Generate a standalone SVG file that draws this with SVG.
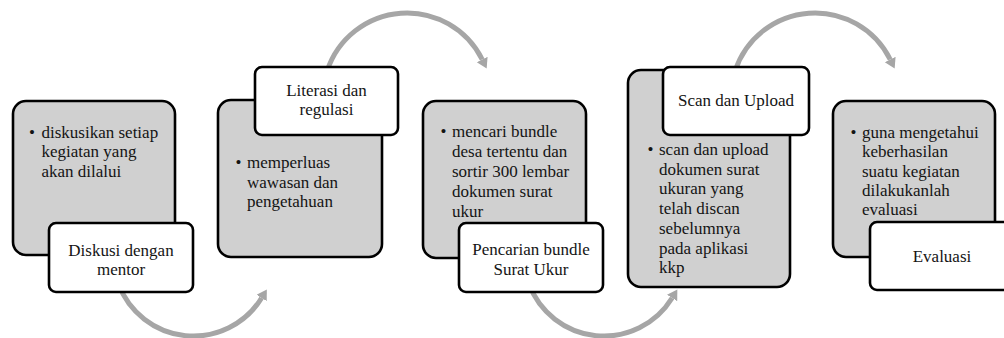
<svg xmlns="http://www.w3.org/2000/svg" width="1004" height="338" viewBox="0 0 1004 338">
  <style>
    .card { fill: #d0d0d0; stroke: #000; stroke-width: 2.6; }
    .tag { fill: #fff; stroke: #000; stroke-width: 2.6; }
    .body { font-family: "Liberation Serif", "Times New Roman", serif; font-size: 17px; fill: #141414; }
    .title { font-family: "Liberation Serif", "Times New Roman", serif; font-size: 17px; fill: #141414; text-anchor: middle; }
    .flow { fill: none; stroke: #a6a6a6; stroke-width: 5; marker-end: url(#head); }
  </style>
  <defs>
    <marker id="head" markerUnits="userSpaceOnUse" markerWidth="14" markerHeight="14" refX="0" refY="6" orient="auto">
      <path d="M0,0 L10,6 L0,12 z" fill="#a6a6a6"/>
    </marker>
  </defs>

  <rect width="1004" height="338" fill="#fff"/>

  <!-- curved connectors between the steps -->
  <g id="connectors">
    <path class="flow" d="M118.3,283.4 A80,80 0 0 0 261.6,298"/>
    <path class="flow" d="M327.1,71 A84,84 0 0 1 482.2,59.5"/>
    <path class="flow" d="M528.8,283.4 A80,80 0 0 0 672.1,298"/>
    <path class="flow" d="M735.1,71 A84,84 0 0 1 890.2,59.5"/>
  </g>

  <g id="step-diskusi">
    <rect class="card" x="13" y="101" width="162" height="154" rx="13"/>
    <text class="body" x="29" y="138">•</text>
    <text class="body" x="41.5" y="138">diskusikan setiap</text>
    <text class="body" x="41.5" y="157.3">kegiatan yang</text>
    <text class="body" x="41.5" y="176.6">akan dilalui</text>
    <rect class="tag" x="49" y="223" width="144" height="69" rx="7"/>
    <text class="title" x="121" y="256">Diskusi dengan</text>
    <text class="title" x="121" y="275">mentor</text>
  </g>

  <g id="step-literasi">
    <rect class="card" x="218" y="100" width="164" height="157" rx="13"/>
    <text class="body" x="235.5" y="168">•</text>
    <text class="body" x="247" y="168">memperluas</text>
    <text class="body" x="247" y="187.5">wawasan dan</text>
    <text class="body" x="247" y="207">pengetahuan</text>
    <rect class="tag" x="255" y="67" width="143" height="68" rx="7"/>
    <text class="title" x="326.5" y="96">Literasi dan</text>
    <text class="title" x="326.5" y="115">regulasi</text>
  </g>

  <g id="step-pencarian">
    <rect class="card" x="423" y="101" width="163" height="157" rx="13"/>
    <text class="body" x="440.5" y="137">•</text>
    <text class="body" x="452" y="137">mencari bundle</text>
    <text class="body" x="452" y="157">desa tertentu dan</text>
    <text class="body" x="452" y="177">sortir 300 lembar</text>
    <text class="body" x="452" y="197">dokumen surat</text>
    <text class="body" x="452" y="217">ukur</text>
    <rect class="tag" x="459" y="223" width="144" height="69" rx="7"/>
    <text class="title" x="531" y="255">Pencarian bundle</text>
    <text class="title" x="531" y="275">Surat Ukur</text>
  </g>

  <g id="step-scan">
    <rect class="card" x="628" y="70" width="162" height="217" rx="13"/>
    <text class="body" x="647.5" y="155">•</text>
    <text class="body" x="659" y="155">scan dan upload</text>
    <text class="body" x="659" y="174.7">dokumen surat</text>
    <text class="body" x="659" y="194.4">ukuran yang</text>
    <text class="body" x="659" y="214.1">telah discan</text>
    <text class="body" x="659" y="233.8">sebelumnya</text>
    <text class="body" x="659" y="253.5">pada aplikasi</text>
    <text class="body" x="659" y="273.2">kkp</text>
    <rect class="tag" x="663" y="67" width="146" height="68" rx="7"/>
    <text class="title" x="736" y="106">Scan dan Upload</text>
  </g>

  <g id="step-evaluasi">
    <rect class="card" x="833" y="101" width="162" height="156" rx="13"/>
    <text class="body" x="850.5" y="138">•</text>
    <text class="body" x="862" y="138">guna mengetahui</text>
    <text class="body" x="862" y="157.3">keberhasilan</text>
    <text class="body" x="862" y="176.6">suatu kegiatan</text>
    <text class="body" x="862" y="195.9">dilakukanlah</text>
    <text class="body" x="862" y="215.2">evaluasi</text>
    <rect class="tag" x="870" y="222" width="144" height="68" rx="7"/>
    <text class="title" x="942" y="262">Evaluasi</text>
  </g>
</svg>
